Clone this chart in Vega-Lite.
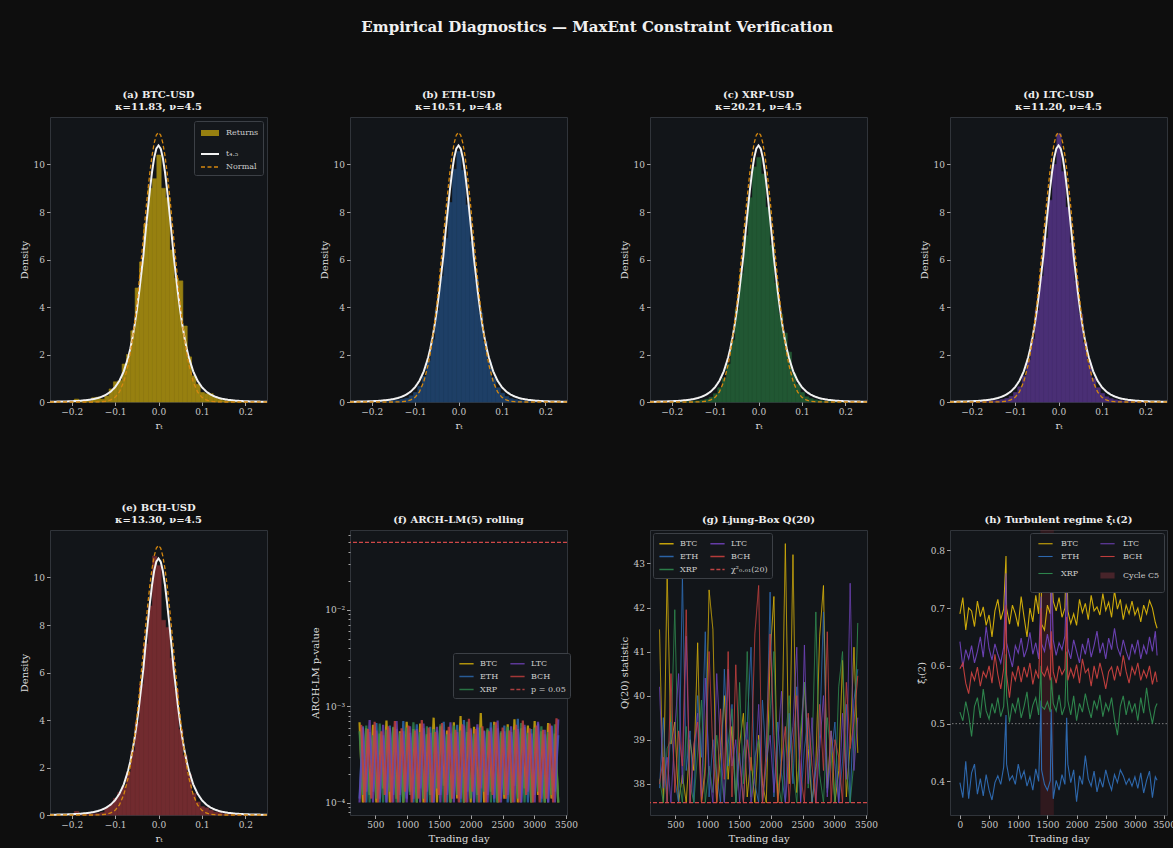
{
"$schema":"https://vega.github.io/schema/vega-lite/v6.json",
"background":"#0e0e0e",
"padding":{"left":18,"top":19,"right":0,"bottom":4},
"title":{"text":"Empirical Diagnostics — MaxEnt Constraint Verification","fontSize":15,"offset":55,"color":"#f0f0f0","font":"DejaVu Serif","fontWeight":"bold","anchor":"middle"},
"columns":4,
"spacing":{"row":128,"column":83},
"bounds":"flush",
"resolve":{"scale":{"color":"independent","strokeDash":"independent","strokeWidth":"independent"},"legend":{"color":"independent","strokeDash":"independent","strokeWidth":"independent"}},
"config":{
 "font":"DejaVu Serif",
 "view":{"fill":"#121519","stroke":"#30343a","strokeWidth":1},
 "title":{"font":"DejaVu Serif","fontSize":10,"fontWeight":"bold","color":"#eeeeee","offset":5,"lineHeight":12,"anchor":"middle"},
 "axis":{"domain":false,"grid":false,"tickColor":"#c8c8c8","tickSize":3.5,"tickWidth":0.8,"labelColor":"#c8c8c8","labelFont":"DejaVu Serif","labelFontSize":9,"labelPadding":2,"labelFlush":false,"labelOverlap":false,"titleColor":"#dcdcdc","titleFont":"DejaVu Serif","titleFontSize":10,"titleFontWeight":"normal","titlePadding":4},
 "legend":{"labelFont":"DejaVu Serif","labelFontSize":8,"labelColor":"#cccccc","fillColor":"#14171b","strokeColor":"#3c4046","padding":4,"cornerRadius":2,"rowPadding":2,"columnPadding":8,"symbolStrokeWidth":1.5,"labelOffset":5,"titlePadding":0}
},
"datasets":{
"curve":[
{"k":"t₄.₅","x":-0.25,"y":0.011},{"k":"t₄.₅","x":-0.22,"y":0.02},{"k":"t₄.₅","x":-0.2,"y":0.032},{"k":"t₄.₅","x":-0.18,"y":0.053},{"k":"t₄.₅","x":-0.16,"y":0.092},{"k":"t₄.₅","x":-0.15,"y":0.123},{"k":"t₄.₅","x":-0.14,"y":0.166},{"k":"t₄.₅","x":-0.13,"y":0.227},{"k":"t₄.₅","x":-0.12,"y":0.314},{"k":"t₄.₅","x":-0.11,"y":0.44},{"k":"t₄.₅","x":-0.1,"y":0.625},{"k":"t₄.₅","x":-0.09,"y":0.895},{"k":"t₄.₅","x":-0.08,"y":1.29},{"k":"t₄.₅","x":-0.07,"y":1.87},{"k":"t₄.₅","x":-0.065,"y":2.25},{"k":"t₄.₅","x":-0.06,"y":2.7},{"k":"t₄.₅","x":-0.055,"y":3.24},{"k":"t₄.₅","x":-0.05,"y":3.85},{"k":"t₄.₅","x":-0.045,"y":4.56},{"k":"t₄.₅","x":-0.04,"y":5.35},{"k":"t₄.₅","x":-0.035,"y":6.14},{"k":"t₄.₅","x":-0.03,"y":7.12},{"k":"t₄.₅","x":-0.025,"y":8.03},{"k":"t₄.₅","x":-0.02,"y":8.9},{"k":"t₄.₅","x":-0.015,"y":9.67},{"k":"t₄.₅","x":-0.01,"y":10.28},{"k":"t₄.₅","x":-0.005,"y":10.67},{"k":"t₄.₅","x":0,"y":10.8},{"k":"t₄.₅","x":0.005,"y":10.67},{"k":"t₄.₅","x":0.01,"y":10.28},{"k":"t₄.₅","x":0.015,"y":9.67},{"k":"t₄.₅","x":0.02,"y":8.9},{"k":"t₄.₅","x":0.025,"y":8.03},{"k":"t₄.₅","x":0.03,"y":7.12},{"k":"t₄.₅","x":0.035,"y":6.14},{"k":"t₄.₅","x":0.04,"y":5.35},{"k":"t₄.₅","x":0.045,"y":4.56},{"k":"t₄.₅","x":0.05,"y":3.85},{"k":"t₄.₅","x":0.055,"y":3.24},{"k":"t₄.₅","x":0.06,"y":2.7},{"k":"t₄.₅","x":0.065,"y":2.25},{"k":"t₄.₅","x":0.07,"y":1.87},{"k":"t₄.₅","x":0.08,"y":1.29},{"k":"t₄.₅","x":0.09,"y":0.895},{"k":"t₄.₅","x":0.1,"y":0.625},{"k":"t₄.₅","x":0.11,"y":0.44},{"k":"t₄.₅","x":0.12,"y":0.314},{"k":"t₄.₅","x":0.13,"y":0.227},{"k":"t₄.₅","x":0.14,"y":0.166},{"k":"t₄.₅","x":0.15,"y":0.123},{"k":"t₄.₅","x":0.16,"y":0.092},{"k":"t₄.₅","x":0.18,"y":0.053},{"k":"t₄.₅","x":0.2,"y":0.032},{"k":"t₄.₅","x":0.22,"y":0.02},{"k":"t₄.₅","x":0.25,"y":0.011},
{"k":"Normal","x":-0.25,"y":0},{"k":"Normal","x":-0.2,"y":0},{"k":"Normal","x":-0.16,"y":0},{"k":"Normal","x":-0.15,"y":0.001},{"k":"Normal","x":-0.14,"y":0.004},{"k":"Normal","x":-0.13,"y":0.012},{"k":"Normal","x":-0.12,"y":0.033},{"k":"Normal","x":-0.11,"y":0.085},{"k":"Normal","x":-0.1,"y":0.198},{"k":"Normal","x":-0.09,"y":0.428},{"k":"Normal","x":-0.08,"y":0.851},{"k":"Normal","x":-0.07,"y":1.56},{"k":"Normal","x":-0.065,"y":2.05},{"k":"Normal","x":-0.06,"y":2.64},{"k":"Normal","x":-0.055,"y":3.34},{"k":"Normal","x":-0.05,"y":4.13},{"k":"Normal","x":-0.045,"y":5.0},{"k":"Normal","x":-0.04,"y":5.94},{"k":"Normal","x":-0.035,"y":6.91},{"k":"Normal","x":-0.03,"y":7.89},{"k":"Normal","x":-0.025,"y":8.81},{"k":"Normal","x":-0.02,"y":9.65},{"k":"Normal","x":-0.015,"y":10.36},{"k":"Normal","x":-0.01,"y":10.9},{"k":"Normal","x":-0.005,"y":11.24},{"k":"Normal","x":0,"y":11.35},{"k":"Normal","x":0.005,"y":11.24},{"k":"Normal","x":0.01,"y":10.9},{"k":"Normal","x":0.015,"y":10.36},{"k":"Normal","x":0.02,"y":9.65},{"k":"Normal","x":0.025,"y":8.81},{"k":"Normal","x":0.03,"y":7.89},{"k":"Normal","x":0.035,"y":6.91},{"k":"Normal","x":0.04,"y":5.94},{"k":"Normal","x":0.045,"y":5.0},{"k":"Normal","x":0.05,"y":4.13},{"k":"Normal","x":0.055,"y":3.34},{"k":"Normal","x":0.06,"y":2.64},{"k":"Normal","x":0.065,"y":2.05},{"k":"Normal","x":0.07,"y":1.56},{"k":"Normal","x":0.08,"y":0.851},{"k":"Normal","x":0.09,"y":0.428},{"k":"Normal","x":0.1,"y":0.198},{"k":"Normal","x":0.11,"y":0.085},{"k":"Normal","x":0.12,"y":0.033},{"k":"Normal","x":0.13,"y":0.012},{"k":"Normal","x":0.14,"y":0.004},{"k":"Normal","x":0.15,"y":0.001},{"k":"Normal","x":0.16,"y":0},{"k":"Normal","x":0.2,"y":0},{"k":"Normal","x":0.25,"y":0}
],
"hist":[
{"c":"BTC","x":-0.205,"d":0.02},{"c":"BTC","x":-0.195,"d":0.12},{"c":"BTC","x":-0.185,"d":0.05},{"c":"BTC","x":-0.175,"d":0.03},{"c":"BTC","x":-0.165,"d":0.04},{"c":"BTC","x":-0.155,"d":0.18},{"c":"BTC","x":-0.145,"d":0.2},{"c":"BTC","x":-0.135,"d":0.12},{"c":"BTC","x":-0.125,"d":0.25},{"c":"BTC","x":-0.115,"d":0.55},{"c":"BTC","x":-0.105,"d":0.85},{"c":"BTC","x":-0.095,"d":0.9},{"c":"BTC","x":-0.085,"d":1.6},{"c":"BTC","x":-0.075,"d":2.0},{"c":"BTC","x":-0.065,"d":3.0},{"c":"BTC","x":-0.055,"d":4.8},{"c":"BTC","x":-0.045,"d":5.9},{"c":"BTC","x":-0.035,"d":7.5},{"c":"BTC","x":-0.025,"d":9.0},{"c":"BTC","x":-0.015,"d":9.4},{"c":"BTC","x":-0.005,"d":10.4},{"c":"BTC","x":0.005,"d":9.0},{"c":"BTC","x":0.015,"d":8.6},{"c":"BTC","x":0.025,"d":6.4},{"c":"BTC","x":0.035,"d":5.2},{"c":"BTC","x":0.045,"d":5.1},{"c":"BTC","x":0.055,"d":3.2},{"c":"BTC","x":0.065,"d":1.9},{"c":"BTC","x":0.075,"d":1.1},{"c":"BTC","x":0.085,"d":0.75},{"c":"BTC","x":0.095,"d":0.4},{"c":"BTC","x":0.105,"d":0.35},{"c":"BTC","x":0.115,"d":0.35},{"c":"BTC","x":0.125,"d":0.2},{"c":"BTC","x":0.135,"d":0.12},{"c":"BTC","x":0.145,"d":0.06},{"c":"BTC","x":0.155,"d":0.04},{"c":"BTC","x":0.165,"d":0.02},{"c":"BTC","x":0.175,"d":0.01},{"c":"BTC","x":0.185,"d":0},{"c":"BTC","x":0.195,"d":0.01},
{"c":"ETH","x":-0.205,"d":0.01},{"c":"ETH","x":-0.195,"d":0.02},{"c":"ETH","x":-0.185,"d":0.02},{"c":"ETH","x":-0.175,"d":0.03},{"c":"ETH","x":-0.165,"d":0.04},{"c":"ETH","x":-0.155,"d":0.06},{"c":"ETH","x":-0.145,"d":0.08},{"c":"ETH","x":-0.135,"d":0.12},{"c":"ETH","x":-0.125,"d":0.16},{"c":"ETH","x":-0.115,"d":0.26},{"c":"ETH","x":-0.105,"d":0.4},{"c":"ETH","x":-0.095,"d":0.66},{"c":"ETH","x":-0.085,"d":1.08},{"c":"ETH","x":-0.075,"d":1.72},{"c":"ETH","x":-0.065,"d":2.62},{"c":"ETH","x":-0.055,"d":3.86},{"c":"ETH","x":-0.045,"d":5.3},{"c":"ETH","x":-0.035,"d":6.9},{"c":"ETH","x":-0.025,"d":8.4},{"c":"ETH","x":-0.015,"d":9.8},{"c":"ETH","x":-0.005,"d":10.55},{"c":"ETH","x":0.005,"d":9.75},{"c":"ETH","x":0.015,"d":8.3},{"c":"ETH","x":0.025,"d":6.75},{"c":"ETH","x":0.035,"d":5.15},{"c":"ETH","x":0.045,"d":3.75},{"c":"ETH","x":0.055,"d":2.55},{"c":"ETH","x":0.065,"d":1.68},{"c":"ETH","x":0.075,"d":1.02},{"c":"ETH","x":0.085,"d":0.6},{"c":"ETH","x":0.095,"d":0.37},{"c":"ETH","x":0.105,"d":0.23},{"c":"ETH","x":0.115,"d":0.14},{"c":"ETH","x":0.125,"d":0.1},{"c":"ETH","x":0.135,"d":0.07},{"c":"ETH","x":0.145,"d":0.05},{"c":"ETH","x":0.155,"d":0.03},{"c":"ETH","x":0.165,"d":0.02},{"c":"ETH","x":0.175,"d":0.02},{"c":"ETH","x":0.185,"d":0.01},{"c":"ETH","x":0.195,"d":0.01},
{"c":"XRP","x":-0.205,"d":0.01},{"c":"XRP","x":-0.195,"d":0},{"c":"XRP","x":-0.185,"d":0.02},{"c":"XRP","x":-0.175,"d":0.01},{"c":"XRP","x":-0.165,"d":0.03},{"c":"XRP","x":-0.155,"d":0.04},{"c":"XRP","x":-0.145,"d":0.05},{"c":"XRP","x":-0.135,"d":0.08},{"c":"XRP","x":-0.125,"d":0.12},{"c":"XRP","x":-0.115,"d":0.2},{"c":"XRP","x":-0.105,"d":0.35},{"c":"XRP","x":-0.095,"d":0.6},{"c":"XRP","x":-0.085,"d":1.0},{"c":"XRP","x":-0.075,"d":1.6},{"c":"XRP","x":-0.065,"d":2.6},{"c":"XRP","x":-0.055,"d":3.9},{"c":"XRP","x":-0.045,"d":5.4},{"c":"XRP","x":-0.035,"d":7.0},{"c":"XRP","x":-0.025,"d":8.6},{"c":"XRP","x":-0.015,"d":9.9},{"c":"XRP","x":-0.005,"d":10.3},{"c":"XRP","x":0.005,"d":9.6},{"c":"XRP","x":0.015,"d":8.2},{"c":"XRP","x":0.025,"d":6.6},{"c":"XRP","x":0.035,"d":5.0},{"c":"XRP","x":0.045,"d":3.7},{"c":"XRP","x":0.055,"d":2.9},{"c":"XRP","x":0.065,"d":2.1},{"c":"XRP","x":0.075,"d":1.2},{"c":"XRP","x":0.085,"d":0.75},{"c":"XRP","x":0.095,"d":0.4},{"c":"XRP","x":0.105,"d":0.22},{"c":"XRP","x":0.115,"d":0.14},{"c":"XRP","x":0.125,"d":0.09},{"c":"XRP","x":0.135,"d":0.06},{"c":"XRP","x":0.145,"d":0.04},{"c":"XRP","x":0.155,"d":0.03},{"c":"XRP","x":0.165,"d":0.02},{"c":"XRP","x":0.175,"d":0.01},{"c":"XRP","x":0.185,"d":0.01},{"c":"XRP","x":0.195,"d":0},
{"c":"LTC","x":-0.205,"d":0.01},{"c":"LTC","x":-0.195,"d":0.01},{"c":"LTC","x":-0.185,"d":0.02},{"c":"LTC","x":-0.175,"d":0.02},{"c":"LTC","x":-0.165,"d":0.03},{"c":"LTC","x":-0.155,"d":0.05},{"c":"LTC","x":-0.145,"d":0.07},{"c":"LTC","x":-0.135,"d":0.1},{"c":"LTC","x":-0.125,"d":0.15},{"c":"LTC","x":-0.115,"d":0.24},{"c":"LTC","x":-0.105,"d":0.4},{"c":"LTC","x":-0.095,"d":0.64},{"c":"LTC","x":-0.085,"d":1.1},{"c":"LTC","x":-0.075,"d":1.75},{"c":"LTC","x":-0.065,"d":2.65},{"c":"LTC","x":-0.055,"d":3.85},{"c":"LTC","x":-0.045,"d":5.3},{"c":"LTC","x":-0.035,"d":6.9},{"c":"LTC","x":-0.025,"d":8.5},{"c":"LTC","x":-0.015,"d":10.0},{"c":"LTC","x":-0.005,"d":11.3},{"c":"LTC","x":0.005,"d":9.7},{"c":"LTC","x":0.015,"d":8.2},{"c":"LTC","x":0.025,"d":6.7},{"c":"LTC","x":0.035,"d":5.1},{"c":"LTC","x":0.045,"d":3.7},{"c":"LTC","x":0.055,"d":2.5},{"c":"LTC","x":0.065,"d":1.65},{"c":"LTC","x":0.075,"d":1.0},{"c":"LTC","x":0.085,"d":0.6},{"c":"LTC","x":0.095,"d":0.36},{"c":"LTC","x":0.105,"d":0.22},{"c":"LTC","x":0.115,"d":0.14},{"c":"LTC","x":0.125,"d":0.09},{"c":"LTC","x":0.135,"d":0.06},{"c":"LTC","x":0.145,"d":0.04},{"c":"LTC","x":0.155,"d":0.03},{"c":"LTC","x":0.165,"d":0.02},{"c":"LTC","x":0.175,"d":0.01},{"c":"LTC","x":0.185,"d":0.01},{"c":"LTC","x":0.195,"d":0.01},
{"c":"BCH","x":-0.205,"d":0.01},{"c":"BCH","x":-0.195,"d":0.15},{"c":"BCH","x":-0.185,"d":0.03},{"c":"BCH","x":-0.175,"d":0.03},{"c":"BCH","x":-0.165,"d":0.04},{"c":"BCH","x":-0.155,"d":0.05},{"c":"BCH","x":-0.145,"d":0.07},{"c":"BCH","x":-0.135,"d":0.1},{"c":"BCH","x":-0.125,"d":0.3},{"c":"BCH","x":-0.115,"d":0.45},{"c":"BCH","x":-0.105,"d":0.7},{"c":"BCH","x":-0.095,"d":0.95},{"c":"BCH","x":-0.085,"d":1.2},{"c":"BCH","x":-0.075,"d":1.8},{"c":"BCH","x":-0.065,"d":2.7},{"c":"BCH","x":-0.055,"d":3.9},{"c":"BCH","x":-0.045,"d":5.5},{"c":"BCH","x":-0.035,"d":7.2},{"c":"BCH","x":-0.025,"d":8.8},{"c":"BCH","x":-0.015,"d":10.9},{"c":"BCH","x":-0.005,"d":10.5},{"c":"BCH","x":0.005,"d":8.2},{"c":"BCH","x":0.015,"d":7.9},{"c":"BCH","x":0.025,"d":6.6},{"c":"BCH","x":0.035,"d":5.3},{"c":"BCH","x":0.045,"d":3.6},{"c":"BCH","x":0.055,"d":2.5},{"c":"BCH","x":0.065,"d":1.7},{"c":"BCH","x":0.075,"d":0.9},{"c":"BCH","x":0.085,"d":0.55},{"c":"BCH","x":0.095,"d":0.35},{"c":"BCH","x":0.105,"d":0.3},{"c":"BCH","x":0.115,"d":0.2},{"c":"BCH","x":0.125,"d":0.12},{"c":"BCH","x":0.135,"d":0.1},{"c":"BCH","x":0.145,"d":0.05},{"c":"BCH","x":0.155,"d":0.03},{"c":"BCH","x":0.165,"d":0.02},{"c":"BCH","x":0.175,"d":0.01},{"c":"BCH","x":0.185,"d":0.01},{"c":"BCH","x":0.195,"d":0}
],
"arch":[
{"s":"BTC","x":250,"p":6.8e-4},{"s":"BTC","x":303,"p":1.0e-4},{"s":"BTC","x":356,"p":5.9e-4},{"s":"BTC","x":409,"p":1.2e-4},{"s":"BTC","x":462,"p":6.4e-4},{"s":"BTC","x":515,"p":1.0e-4},{"s":"BTC","x":568,"p":5.2e-4},{"s":"BTC","x":621,"p":1.4e-4},{"s":"BTC","x":674,"p":7.1e-4},{"s":"BTC","x":727,"p":1.0e-4},{"s":"BTC","x":780,"p":6.0e-4},{"s":"BTC","x":833,"p":1.1e-4},{"s":"BTC","x":886,"p":5.5e-4},{"s":"BTC","x":939,"p":1.0e-4},{"s":"BTC","x":992,"p":6.9e-4},{"s":"BTC","x":1045,"p":1.3e-4},{"s":"BTC","x":1098,"p":5.8e-4},{"s":"BTC","x":1151,"p":1.0e-4},{"s":"BTC","x":1204,"p":6.6e-4},{"s":"BTC","x":1257,"p":1.0e-4},{"s":"BTC","x":1310,"p":5.1e-4},{"s":"BTC","x":1363,"p":1.2e-4},{"s":"BTC","x":1416,"p":7.6e-4},{"s":"BTC","x":1469,"p":1.0e-4},{"s":"BTC","x":1522,"p":6.2e-4},{"s":"BTC","x":1575,"p":1.5e-4},{"s":"BTC","x":1628,"p":5.6e-4},{"s":"BTC","x":1681,"p":1.0e-4},{"s":"BTC","x":1734,"p":6.8e-4},{"s":"BTC","x":1787,"p":1.1e-4},{"s":"BTC","x":1840,"p":7.9e-4},{"s":"BTC","x":1893,"p":1.0e-4},{"s":"BTC","x":1946,"p":5.4e-4},{"s":"BTC","x":1999,"p":1.0e-4},{"s":"BTC","x":2052,"p":6.1e-4},{"s":"BTC","x":2105,"p":1.2e-4},{"s":"BTC","x":2158,"p":8.5e-4},{"s":"BTC","x":2211,"p":1.0e-4},{"s":"BTC","x":2264,"p":5.7e-4},{"s":"BTC","x":2317,"p":1.3e-4},{"s":"BTC","x":2370,"p":6.9e-4},{"s":"BTC","x":2423,"p":1.0e-4},{"s":"BTC","x":2476,"p":5.3e-4},{"s":"BTC","x":2529,"p":1.1e-4},{"s":"BTC","x":2582,"p":6.5e-4},{"s":"BTC","x":2635,"p":1.0e-4},{"s":"BTC","x":2688,"p":7.3e-4},{"s":"BTC","x":2741,"p":1.0e-4},{"s":"BTC","x":2794,"p":5.9e-4},{"s":"BTC","x":2847,"p":1.4e-4},{"s":"BTC","x":2900,"p":6.3e-4},{"s":"BTC","x":2953,"p":1.0e-4},{"s":"BTC","x":3006,"p":7.0e-4},{"s":"BTC","x":3059,"p":1.2e-4},{"s":"BTC","x":3112,"p":5.5e-4},{"s":"BTC","x":3165,"p":1.0e-4},{"s":"BTC","x":3218,"p":6.7e-4},{"s":"BTC","x":3271,"p":1.1e-4},{"s":"BTC","x":3324,"p":5.2e-4},{"s":"BTC","x":3377,"p":1.0e-4},
{"s":"ETH","x":250,"p":1.1e-4},{"s":"ETH","x":303,"p":6.2e-4},{"s":"ETH","x":356,"p":1.0e-4},{"s":"ETH","x":409,"p":5.4e-4},{"s":"ETH","x":462,"p":1.3e-4},{"s":"ETH","x":515,"p":6.7e-4},{"s":"ETH","x":568,"p":1.0e-4},{"s":"ETH","x":621,"p":5.0e-4},{"s":"ETH","x":674,"p":1.0e-4},{"s":"ETH","x":727,"p":6.3e-4},{"s":"ETH","x":780,"p":1.2e-4},{"s":"ETH","x":833,"p":5.8e-4},{"s":"ETH","x":886,"p":1.0e-4},{"s":"ETH","x":939,"p":7.0e-4},{"s":"ETH","x":992,"p":1.1e-4},{"s":"ETH","x":1045,"p":5.3e-4},{"s":"ETH","x":1098,"p":1.0e-4},{"s":"ETH","x":1151,"p":6.5e-4},{"s":"ETH","x":1204,"p":1.4e-4},{"s":"ETH","x":1257,"p":5.9e-4},{"s":"ETH","x":1310,"p":1.0e-4},{"s":"ETH","x":1363,"p":6.1e-4},{"s":"ETH","x":1416,"p":1.0e-4},{"s":"ETH","x":1469,"p":5.6e-4},{"s":"ETH","x":1522,"p":1.2e-4},{"s":"ETH","x":1575,"p":6.9e-4},{"s":"ETH","x":1628,"p":1.0e-4},{"s":"ETH","x":1681,"p":5.2e-4},{"s":"ETH","x":1734,"p":1.1e-4},{"s":"ETH","x":1787,"p":6.4e-4},{"s":"ETH","x":1840,"p":1.0e-4},{"s":"ETH","x":1893,"p":7.2e-4},{"s":"ETH","x":1946,"p":1.3e-4},{"s":"ETH","x":1999,"p":5.7e-4},{"s":"ETH","x":2052,"p":1.0e-4},{"s":"ETH","x":2105,"p":6.0e-4},{"s":"ETH","x":2158,"p":1.0e-4},{"s":"ETH","x":2211,"p":5.5e-4},{"s":"ETH","x":2264,"p":1.2e-4},{"s":"ETH","x":2317,"p":6.8e-4},{"s":"ETH","x":2370,"p":1.0e-4},{"s":"ETH","x":2423,"p":5.9e-4},{"s":"ETH","x":2476,"p":1.1e-4},{"s":"ETH","x":2529,"p":6.3e-4},{"s":"ETH","x":2582,"p":1.0e-4},{"s":"ETH","x":2635,"p":5.4e-4},{"s":"ETH","x":2688,"p":1.5e-4},{"s":"ETH","x":2741,"p":7.4e-4},{"s":"ETH","x":2794,"p":1.0e-4},{"s":"ETH","x":2847,"p":6.1e-4},{"s":"ETH","x":2900,"p":1.0e-4},{"s":"ETH","x":2953,"p":5.8e-4},{"s":"ETH","x":3006,"p":1.2e-4},{"s":"ETH","x":3059,"p":6.6e-4},{"s":"ETH","x":3112,"p":1.0e-4},{"s":"ETH","x":3165,"p":5.1e-4},{"s":"ETH","x":3218,"p":1.0e-4},{"s":"ETH","x":3271,"p":6.2e-4},{"s":"ETH","x":3324,"p":1.3e-4},{"s":"ETH","x":3377,"p":5.0e-4},
{"s":"XRP","x":250,"p":5.5e-4},{"s":"XRP","x":303,"p":1.2e-4},{"s":"XRP","x":356,"p":6.3e-4},{"s":"XRP","x":409,"p":1.0e-4},{"s":"XRP","x":462,"p":5.0e-4},{"s":"XRP","x":515,"p":1.1e-4},{"s":"XRP","x":568,"p":6.6e-4},{"s":"XRP","x":621,"p":1.0e-4},{"s":"XRP","x":674,"p":5.7e-4},{"s":"XRP","x":727,"p":1.3e-4},{"s":"XRP","x":780,"p":6.1e-4},{"s":"XRP","x":833,"p":1.0e-4},{"s":"XRP","x":886,"p":5.3e-4},{"s":"XRP","x":939,"p":1.0e-4},{"s":"XRP","x":992,"p":6.0e-4},{"s":"XRP","x":1045,"p":1.2e-4},{"s":"XRP","x":1098,"p":6.8e-4},{"s":"XRP","x":1151,"p":1.0e-4},{"s":"XRP","x":1204,"p":5.4e-4},{"s":"XRP","x":1257,"p":1.1e-4},{"s":"XRP","x":1310,"p":6.2e-4},{"s":"XRP","x":1363,"p":1.0e-4},{"s":"XRP","x":1416,"p":5.8e-4},{"s":"XRP","x":1469,"p":1.4e-4},{"s":"XRP","x":1522,"p":6.5e-4},{"s":"XRP","x":1575,"p":1.0e-4},{"s":"XRP","x":1628,"p":5.1e-4},{"s":"XRP","x":1681,"p":1.0e-4},{"s":"XRP","x":1734,"p":6.3e-4},{"s":"XRP","x":1787,"p":1.2e-4},{"s":"XRP","x":1840,"p":5.6e-4},{"s":"XRP","x":1893,"p":1.0e-4},{"s":"XRP","x":1946,"p":6.9e-4},{"s":"XRP","x":1999,"p":1.1e-4},{"s":"XRP","x":2052,"p":5.2e-4},{"s":"XRP","x":2105,"p":1.0e-4},{"s":"XRP","x":2158,"p":6.0e-4},{"s":"XRP","x":2211,"p":1.3e-4},{"s":"XRP","x":2264,"p":5.9e-4},{"s":"XRP","x":2317,"p":1.0e-4},{"s":"XRP","x":2370,"p":6.4e-4},{"s":"XRP","x":2423,"p":1.0e-4},{"s":"XRP","x":2476,"p":5.5e-4},{"s":"XRP","x":2529,"p":1.2e-4},{"s":"XRP","x":2582,"p":6.1e-4},{"s":"XRP","x":2635,"p":1.0e-4},{"s":"XRP","x":2688,"p":5.7e-4},{"s":"XRP","x":2741,"p":1.1e-4},{"s":"XRP","x":2794,"p":6.7e-4},{"s":"XRP","x":2847,"p":1.0e-4},{"s":"XRP","x":2900,"p":5.3e-4},{"s":"XRP","x":2953,"p":1.0e-4},{"s":"XRP","x":3006,"p":6.0e-4},{"s":"XRP","x":3059,"p":1.3e-4},{"s":"XRP","x":3112,"p":6.2e-4},{"s":"XRP","x":3165,"p":1.0e-4},{"s":"XRP","x":3218,"p":5.4e-4},{"s":"XRP","x":3271,"p":1.2e-4},{"s":"XRP","x":3324,"p":6.5e-4},{"s":"XRP","x":3377,"p":1.0e-4},
{"s":"LTC","x":250,"p":1.0e-4},{"s":"LTC","x":303,"p":6.0e-4},{"s":"LTC","x":356,"p":1.3e-4},{"s":"LTC","x":409,"p":7.2e-4},{"s":"LTC","x":462,"p":1.0e-4},{"s":"LTC","x":515,"p":5.6e-4},{"s":"LTC","x":568,"p":1.1e-4},{"s":"LTC","x":621,"p":6.4e-4},{"s":"LTC","x":674,"p":1.0e-4},{"s":"LTC","x":727,"p":5.9e-4},{"s":"LTC","x":780,"p":1.0e-4},{"s":"LTC","x":833,"p":7.0e-4},{"s":"LTC","x":886,"p":1.2e-4},{"s":"LTC","x":939,"p":5.5e-4},{"s":"LTC","x":992,"p":1.0e-4},{"s":"LTC","x":1045,"p":6.2e-4},{"s":"LTC","x":1098,"p":1.1e-4},{"s":"LTC","x":1151,"p":5.8e-4},{"s":"LTC","x":1204,"p":1.0e-4},{"s":"LTC","x":1257,"p":6.6e-4},{"s":"LTC","x":1310,"p":1.3e-4},{"s":"LTC","x":1363,"p":5.3e-4},{"s":"LTC","x":1416,"p":1.0e-4},{"s":"LTC","x":1469,"p":6.1e-4},{"s":"LTC","x":1522,"p":1.0e-4},{"s":"LTC","x":1575,"p":5.7e-4},{"s":"LTC","x":1628,"p":1.2e-4},{"s":"LTC","x":1681,"p":6.8e-4},{"s":"LTC","x":1734,"p":1.0e-4},{"s":"LTC","x":1787,"p":5.4e-4},{"s":"LTC","x":1840,"p":1.1e-4},{"s":"LTC","x":1893,"p":6.3e-4},{"s":"LTC","x":1946,"p":1.0e-4},{"s":"LTC","x":1999,"p":5.9e-4},{"s":"LTC","x":2052,"p":1.0e-4},{"s":"LTC","x":2105,"p":6.5e-4},{"s":"LTC","x":2158,"p":1.4e-4},{"s":"LTC","x":2211,"p":5.6e-4},{"s":"LTC","x":2264,"p":1.0e-4},{"s":"LTC","x":2317,"p":6.0e-4},{"s":"LTC","x":2370,"p":1.1e-4},{"s":"LTC","x":2423,"p":7.1e-4},{"s":"LTC","x":2476,"p":1.0e-4},{"s":"LTC","x":2529,"p":5.5e-4},{"s":"LTC","x":2582,"p":1.2e-4},{"s":"LTC","x":2635,"p":6.2e-4},{"s":"LTC","x":2688,"p":1.0e-4},{"s":"LTC","x":2741,"p":5.8e-4},{"s":"LTC","x":2794,"p":1.0e-4},{"s":"LTC","x":2847,"p":6.4e-4},{"s":"LTC","x":2900,"p":1.3e-4},{"s":"LTC","x":2953,"p":5.2e-4},{"s":"LTC","x":3006,"p":1.0e-4},{"s":"LTC","x":3059,"p":6.9e-4},{"s":"LTC","x":3112,"p":1.1e-4},{"s":"LTC","x":3165,"p":5.7e-4},{"s":"LTC","x":3218,"p":1.0e-4},{"s":"LTC","x":3271,"p":6.3e-4},{"s":"LTC","x":3324,"p":1.0e-4},{"s":"LTC","x":3377,"p":7.3e-4},
{"s":"BCH","x":276,"p":6.4e-4},{"s":"BCH","x":329,"p":1.0e-4},{"s":"BCH","x":382,"p":5.8e-4},{"s":"BCH","x":435,"p":1.1e-4},{"s":"BCH","x":488,"p":6.9e-4},{"s":"BCH","x":541,"p":1.0e-4},{"s":"BCH","x":594,"p":5.5e-4},{"s":"BCH","x":647,"p":1.2e-4},{"s":"BCH","x":700,"p":6.2e-4},{"s":"BCH","x":753,"p":1.0e-4},{"s":"BCH","x":806,"p":7.0e-4},{"s":"BCH","x":859,"p":1.0e-4},{"s":"BCH","x":912,"p":5.9e-4},{"s":"BCH","x":965,"p":1.3e-4},{"s":"BCH","x":1018,"p":6.3e-4},{"s":"BCH","x":1071,"p":1.0e-4},{"s":"BCH","x":1124,"p":5.6e-4},{"s":"BCH","x":1177,"p":1.1e-4},{"s":"BCH","x":1230,"p":7.2e-4},{"s":"BCH","x":1283,"p":1.0e-4},{"s":"BCH","x":1336,"p":6.0e-4},{"s":"BCH","x":1389,"p":1.0e-4},{"s":"BCH","x":1442,"p":5.4e-4},{"s":"BCH","x":1495,"p":1.2e-4},{"s":"BCH","x":1548,"p":6.7e-4},{"s":"BCH","x":1601,"p":1.0e-4},{"s":"BCH","x":1654,"p":6.1e-4},{"s":"BCH","x":1707,"p":1.1e-4},{"s":"BCH","x":1760,"p":5.7e-4},{"s":"BCH","x":1813,"p":1.0e-4},{"s":"BCH","x":1866,"p":6.5e-4},{"s":"BCH","x":1919,"p":1.0e-4},{"s":"BCH","x":1972,"p":7.4e-4},{"s":"BCH","x":2025,"p":1.3e-4},{"s":"BCH","x":2078,"p":5.8e-4},{"s":"BCH","x":2131,"p":1.0e-4},{"s":"BCH","x":2184,"p":6.2e-4},{"s":"BCH","x":2237,"p":1.0e-4},{"s":"BCH","x":2290,"p":5.5e-4},{"s":"BCH","x":2343,"p":1.2e-4},{"s":"BCH","x":2396,"p":6.8e-4},{"s":"BCH","x":2449,"p":1.0e-4},{"s":"BCH","x":2502,"p":6.0e-4},{"s":"BCH","x":2555,"p":1.1e-4},{"s":"BCH","x":2608,"p":5.6e-4},{"s":"BCH","x":2661,"p":1.0e-4},{"s":"BCH","x":2714,"p":6.4e-4},{"s":"BCH","x":2767,"p":1.0e-4},{"s":"BCH","x":2820,"p":7.1e-4},{"s":"BCH","x":2873,"p":1.2e-4},{"s":"BCH","x":2926,"p":5.9e-4},{"s":"BCH","x":2979,"p":1.0e-4},{"s":"BCH","x":3032,"p":6.3e-4},{"s":"BCH","x":3085,"p":1.0e-4},{"s":"BCH","x":3138,"p":5.7e-4},{"s":"BCH","x":3191,"p":1.1e-4},{"s":"BCH","x":3244,"p":6.6e-4},{"s":"BCH","x":3297,"p":1.0e-4},{"s":"BCH","x":3350,"p":7.5e-4}
],
"lb":[
{"s":"BTC","x":250,"q":41.5},{"s":"BTC","x":310,"q":37.57},{"s":"BTC","x":370,"q":42.8},{"s":"BTC","x":430,"q":38.9},{"s":"BTC","x":490,"q":39.4},{"s":"BTC","x":550,"q":37.57},{"s":"BTC","x":610,"q":38.2},{"s":"BTC","x":670,"q":37.57},{"s":"BTC","x":730,"q":39.0},{"s":"BTC","x":790,"q":38.3},{"s":"BTC","x":850,"q":41.2},{"s":"BTC","x":910,"q":37.57},{"s":"BTC","x":970,"q":38.4},{"s":"BTC","x":1030,"q":42.4},{"s":"BTC","x":1090,"q":41.5},{"s":"BTC","x":1150,"q":37.57},{"s":"BTC","x":1210,"q":38.7},{"s":"BTC","x":1270,"q":40.0},{"s":"BTC","x":1330,"q":38.1},{"s":"BTC","x":1390,"q":39.3},{"s":"BTC","x":1450,"q":37.57},{"s":"BTC","x":1510,"q":38.9},{"s":"BTC","x":1570,"q":39.6},{"s":"BTC","x":1630,"q":37.7},{"s":"BTC","x":1690,"q":38.6},{"s":"BTC","x":1750,"q":37.57},{"s":"BTC","x":1810,"q":39.1},{"s":"BTC","x":1870,"q":38.0},{"s":"BTC","x":1930,"q":37.57},{"s":"BTC","x":1990,"q":40.9},{"s":"BTC","x":2050,"q":42.25},{"s":"BTC","x":2110,"q":37.57},{"s":"BTC","x":2170,"q":38.5},{"s":"BTC","x":2230,"q":43.45},{"s":"BTC","x":2290,"q":38.0},{"s":"BTC","x":2350,"q":43.2},{"s":"BTC","x":2410,"q":37.8},{"s":"BTC","x":2470,"q":38.9},{"s":"BTC","x":2530,"q":40.3},{"s":"BTC","x":2590,"q":38.8},{"s":"BTC","x":2650,"q":37.57},{"s":"BTC","x":2710,"q":38.4},{"s":"BTC","x":2770,"q":41.35},{"s":"BTC","x":2830,"q":42.5},{"s":"BTC","x":2890,"q":37.9},{"s":"BTC","x":2950,"q":39.2},{"s":"BTC","x":3010,"q":37.57},{"s":"BTC","x":3070,"q":38.3},{"s":"BTC","x":3130,"q":40.8},{"s":"BTC","x":3190,"q":37.7},{"s":"BTC","x":3250,"q":38.9},{"s":"BTC","x":3310,"q":41.1},{"s":"BTC","x":3370,"q":38.7},
{"s":"ETH","x":250,"q":37.9},{"s":"ETH","x":310,"q":39.5},{"s":"ETH","x":370,"q":37.57},{"s":"ETH","x":430,"q":39.4},{"s":"ETH","x":490,"q":38.1},{"s":"ETH","x":550,"q":37.57},{"s":"ETH","x":610,"q":42.7},{"s":"ETH","x":670,"q":38.3},{"s":"ETH","x":730,"q":39.2},{"s":"ETH","x":790,"q":37.57},{"s":"ETH","x":850,"q":40.0},{"s":"ETH","x":910,"q":38.6},{"s":"ETH","x":970,"q":41.45},{"s":"ETH","x":1030,"q":37.7},{"s":"ETH","x":1090,"q":39.0},{"s":"ETH","x":1150,"q":38.2},{"s":"ETH","x":1210,"q":37.57},{"s":"ETH","x":1270,"q":40.6},{"s":"ETH","x":1330,"q":38.4},{"s":"ETH","x":1390,"q":39.8},{"s":"ETH","x":1450,"q":37.57},{"s":"ETH","x":1510,"q":38.7},{"s":"ETH","x":1570,"q":37.57},{"s":"ETH","x":1630,"q":39.3},{"s":"ETH","x":1690,"q":41.1},{"s":"ETH","x":1750,"q":38.0},{"s":"ETH","x":1810,"q":37.57},{"s":"ETH","x":1870,"q":39.9},{"s":"ETH","x":1930,"q":38.5},{"s":"ETH","x":1990,"q":42.35},{"s":"ETH","x":2050,"q":37.7},{"s":"ETH","x":2110,"q":39.4},{"s":"ETH","x":2170,"q":38.2},{"s":"ETH","x":2230,"q":37.57},{"s":"ETH","x":2290,"q":39.6},{"s":"ETH","x":2350,"q":38.0},{"s":"ETH","x":2410,"q":40.2},{"s":"ETH","x":2470,"q":37.57},{"s":"ETH","x":2530,"q":38.8},{"s":"ETH","x":2590,"q":39.5},{"s":"ETH","x":2650,"q":37.57},{"s":"ETH","x":2710,"q":38.3},{"s":"ETH","x":2770,"q":39.1},{"s":"ETH","x":2830,"q":41.9},{"s":"ETH","x":2890,"q":37.8},{"s":"ETH","x":2950,"q":38.6},{"s":"ETH","x":3010,"q":39.4},{"s":"ETH","x":3070,"q":37.57},{"s":"ETH","x":3130,"q":38.5},{"s":"ETH","x":3190,"q":39.8},{"s":"ETH","x":3250,"q":37.57},{"s":"ETH","x":3310,"q":39.9},{"s":"ETH","x":3370,"q":40.6},
{"s":"XRP","x":250,"q":38.1},{"s":"XRP","x":310,"q":37.57},{"s":"XRP","x":370,"q":38.8},{"s":"XRP","x":430,"q":39.0},{"s":"XRP","x":490,"q":41.95},{"s":"XRP","x":550,"q":38.2},{"s":"XRP","x":610,"q":37.57},{"s":"XRP","x":670,"q":39.3},{"s":"XRP","x":730,"q":38.0},{"s":"XRP","x":790,"q":37.57},{"s":"XRP","x":850,"q":38.7},{"s":"XRP","x":910,"q":39.9},{"s":"XRP","x":970,"q":37.57},{"s":"XRP","x":1030,"q":38.4},{"s":"XRP","x":1090,"q":37.8},{"s":"XRP","x":1150,"q":39.1},{"s":"XRP","x":1210,"q":38.3},{"s":"XRP","x":1270,"q":37.57},{"s":"XRP","x":1330,"q":38.9},{"s":"XRP","x":1390,"q":39.7},{"s":"XRP","x":1450,"q":37.57},{"s":"XRP","x":1510,"q":40.3},{"s":"XRP","x":1570,"q":38.0},{"s":"XRP","x":1630,"q":41.0},{"s":"XRP","x":1690,"q":37.7},{"s":"XRP","x":1750,"q":38.6},{"s":"XRP","x":1810,"q":39.0},{"s":"XRP","x":1870,"q":37.57},{"s":"XRP","x":1930,"q":38.4},{"s":"XRP","x":1990,"q":39.6},{"s":"XRP","x":2050,"q":41.0},{"s":"XRP","x":2110,"q":38.1},{"s":"XRP","x":2170,"q":37.57},{"s":"XRP","x":2230,"q":38.9},{"s":"XRP","x":2290,"q":40.0},{"s":"XRP","x":2350,"q":38.3},{"s":"XRP","x":2410,"q":37.57},{"s":"XRP","x":2470,"q":39.2},{"s":"XRP","x":2530,"q":40.3},{"s":"XRP","x":2590,"q":37.9},{"s":"XRP","x":2650,"q":38.7},{"s":"XRP","x":2710,"q":41.9},{"s":"XRP","x":2770,"q":38.2},{"s":"XRP","x":2830,"q":37.57},{"s":"XRP","x":2890,"q":39.5},{"s":"XRP","x":2950,"q":38.6},{"s":"XRP","x":3010,"q":37.57},{"s":"XRP","x":3070,"q":40.2},{"s":"XRP","x":3130,"q":41.0},{"s":"XRP","x":3190,"q":38.3},{"s":"XRP","x":3250,"q":37.57},{"s":"XRP","x":3310,"q":38.5},{"s":"XRP","x":3370,"q":41.65},
{"s":"LTC","x":250,"q":40.2},{"s":"LTC","x":310,"q":37.9},{"s":"LTC","x":370,"q":38.6},{"s":"LTC","x":430,"q":37.57},{"s":"LTC","x":490,"q":39.2},{"s":"LTC","x":550,"q":40.5},{"s":"LTC","x":610,"q":38.0},{"s":"LTC","x":670,"q":41.35},{"s":"LTC","x":730,"q":37.57},{"s":"LTC","x":790,"q":38.8},{"s":"LTC","x":850,"q":39.6},{"s":"LTC","x":910,"q":37.7},{"s":"LTC","x":970,"q":40.4},{"s":"LTC","x":1030,"q":38.3},{"s":"LTC","x":1090,"q":37.57},{"s":"LTC","x":1150,"q":40.5},{"s":"LTC","x":1210,"q":38.9},{"s":"LTC","x":1270,"q":37.57},{"s":"LTC","x":1330,"q":40.6},{"s":"LTC","x":1390,"q":38.4},{"s":"LTC","x":1450,"q":39.0},{"s":"LTC","x":1510,"q":37.57},{"s":"LTC","x":1570,"q":38.7},{"s":"LTC","x":1630,"q":39.4},{"s":"LTC","x":1690,"q":37.57},{"s":"LTC","x":1750,"q":38.2},{"s":"LTC","x":1810,"q":39.8},{"s":"LTC","x":1870,"q":37.57},{"s":"LTC","x":1930,"q":38.5},{"s":"LTC","x":1990,"q":39.1},{"s":"LTC","x":2050,"q":37.8},{"s":"LTC","x":2110,"q":38.9},{"s":"LTC","x":2170,"q":40.1},{"s":"LTC","x":2230,"q":37.57},{"s":"LTC","x":2290,"q":38.6},{"s":"LTC","x":2350,"q":39.3},{"s":"LTC","x":2410,"q":41.1},{"s":"LTC","x":2470,"q":37.57},{"s":"LTC","x":2530,"q":41.15},{"s":"LTC","x":2590,"q":38.0},{"s":"LTC","x":2650,"q":39.5},{"s":"LTC","x":2710,"q":37.57},{"s":"LTC","x":2770,"q":38.8},{"s":"LTC","x":2830,"q":40.0},{"s":"LTC","x":2890,"q":37.7},{"s":"LTC","x":2950,"q":39.2},{"s":"LTC","x":3010,"q":38.4},{"s":"LTC","x":3070,"q":37.57},{"s":"LTC","x":3130,"q":39.6},{"s":"LTC","x":3190,"q":38.1},{"s":"LTC","x":3250,"q":42.55},{"s":"LTC","x":3310,"q":38.3},{"s":"LTC","x":3370,"q":39.5},
{"s":"BCH","x":250,"q":38.0},{"s":"BCH","x":310,"q":38.6},{"s":"BCH","x":370,"q":37.57},{"s":"BCH","x":430,"q":40.5},{"s":"BCH","x":490,"q":37.8},{"s":"BCH","x":550,"q":39.2},{"s":"BCH","x":610,"q":38.4},{"s":"BCH","x":670,"q":41.95},{"s":"BCH","x":730,"q":37.57},{"s":"BCH","x":790,"q":38.9},{"s":"BCH","x":850,"q":39.4},{"s":"BCH","x":910,"q":37.57},{"s":"BCH","x":970,"q":38.2},{"s":"BCH","x":1030,"q":41.0},{"s":"BCH","x":1090,"q":38.7},{"s":"BCH","x":1150,"q":37.57},{"s":"BCH","x":1210,"q":39.7},{"s":"BCH","x":1270,"q":38.1},{"s":"BCH","x":1330,"q":41.0},{"s":"BCH","x":1390,"q":37.7},{"s":"BCH","x":1450,"q":40.7},{"s":"BCH","x":1510,"q":38.5},{"s":"BCH","x":1570,"q":37.57},{"s":"BCH","x":1630,"q":39.0},{"s":"BCH","x":1690,"q":38.3},{"s":"BCH","x":1750,"q":41.4},{"s":"BCH","x":1810,"q":42.5},{"s":"BCH","x":1870,"q":37.57},{"s":"BCH","x":1930,"q":38.8},{"s":"BCH","x":1990,"q":41.4},{"s":"BCH","x":2050,"q":39.1},{"s":"BCH","x":2110,"q":37.57},{"s":"BCH","x":2170,"q":38.5},{"s":"BCH","x":2230,"q":39.3},{"s":"BCH","x":2290,"q":37.57},{"s":"BCH","x":2350,"q":38.9},{"s":"BCH","x":2410,"q":40.0},{"s":"BCH","x":2470,"q":38.2},{"s":"BCH","x":2530,"q":37.57},{"s":"BCH","x":2590,"q":39.6},{"s":"BCH","x":2650,"q":38.4},{"s":"BCH","x":2710,"q":37.57},{"s":"BCH","x":2770,"q":39.8},{"s":"BCH","x":2830,"q":38.3},{"s":"BCH","x":2890,"q":41.45},{"s":"BCH","x":2950,"q":37.57},{"s":"BCH","x":3010,"q":39.0},{"s":"BCH","x":3070,"q":38.6},{"s":"BCH","x":3130,"q":37.57},{"s":"BCH","x":3190,"q":40.3},{"s":"BCH","x":3250,"q":38.8},{"s":"BCH","x":3310,"q":39.4},{"s":"BCH","x":3370,"q":40.45}
],
"xi":[
{"s":"BTC","x":0,"v":0.69},{"s":"BTC","x":50,"v":0.718},{"s":"BTC","x":100,"v":0.662},{"s":"BTC","x":150,"v":0.7},{"s":"BTC","x":200,"v":0.695},{"s":"BTC","x":250,"v":0.668},{"s":"BTC","x":300,"v":0.712},{"s":"BTC","x":350,"v":0.685},{"s":"BTC","x":400,"v":0.702},{"s":"BTC","x":450,"v":0.67},{"s":"BTC","x":500,"v":0.688},{"s":"BTC","x":550,"v":0.65},{"s":"BTC","x":600,"v":0.695},{"s":"BTC","x":650,"v":0.715},{"s":"BTC","x":700,"v":0.68},{"s":"BTC","x":750,"v":0.698},{"s":"BTC","x":790,"v":0.79},{"s":"BTC","x":800,"v":0.7},{"s":"BTC","x":850,"v":0.672},{"s":"BTC","x":900,"v":0.705},{"s":"BTC","x":950,"v":0.69},{"s":"BTC","x":1000,"v":0.668},{"s":"BTC","x":1050,"v":0.72},{"s":"BTC","x":1100,"v":0.684},{"s":"BTC","x":1150,"v":0.65},{"s":"BTC","x":1200,"v":0.7},{"s":"BTC","x":1250,"v":0.676},{"s":"BTC","x":1300,"v":0.722},{"s":"BTC","x":1350,"v":0.69},{"s":"BTC","x":1390,"v":0.812},{"s":"BTC","x":1400,"v":0.672},{"s":"BTC","x":1450,"v":0.662},{"s":"BTC","x":1500,"v":0.705},{"s":"BTC","x":1550,"v":0.69},{"s":"BTC","x":1565,"v":0.77},{"s":"BTC","x":1600,"v":0.712},{"s":"BTC","x":1650,"v":0.695},{"s":"BTC","x":1700,"v":0.718},{"s":"BTC","x":1750,"v":0.684},{"s":"BTC","x":1800,"v":0.7},{"s":"BTC","x":1830,"v":0.81},{"s":"BTC","x":1850,"v":0.695},{"s":"BTC","x":1900,"v":0.673},{"s":"BTC","x":1950,"v":0.69},{"s":"BTC","x":2000,"v":0.67},{"s":"BTC","x":2050,"v":0.715},{"s":"BTC","x":2100,"v":0.692},{"s":"BTC","x":2150,"v":0.708},{"s":"BTC","x":2200,"v":0.68},{"s":"BTC","x":2250,"v":0.722},{"s":"BTC","x":2300,"v":0.695},{"s":"BTC","x":2350,"v":0.702},{"s":"BTC","x":2400,"v":0.688},{"s":"BTC","x":2450,"v":0.725},{"s":"BTC","x":2500,"v":0.696},{"s":"BTC","x":2550,"v":0.71},{"s":"BTC","x":2600,"v":0.684},{"s":"BTC","x":2650,"v":0.73},{"s":"BTC","x":2700,"v":0.698},{"s":"BTC","x":2750,"v":0.715},{"s":"BTC","x":2800,"v":0.68},{"s":"BTC","x":2850,"v":0.705},{"s":"BTC","x":2900,"v":0.69},{"s":"BTC","x":2950,"v":0.712},{"s":"BTC","x":3000,"v":0.688},{"s":"BTC","x":3050,"v":0.7},{"s":"BTC","x":3100,"v":0.676},{"s":"BTC","x":3150,"v":0.705},{"s":"BTC","x":3200,"v":0.69},{"s":"BTC","x":3250,"v":0.713},{"s":"BTC","x":3300,"v":0.7},{"s":"BTC","x":3350,"v":0.675},{"s":"BTC","x":3380,"v":0.665},
{"s":"ETH","x":0,"v":0.398},{"s":"ETH","x":50,"v":0.372},{"s":"ETH","x":100,"v":0.435},{"s":"ETH","x":150,"v":0.37},{"s":"ETH","x":200,"v":0.415},{"s":"ETH","x":250,"v":0.43},{"s":"ETH","x":300,"v":0.378},{"s":"ETH","x":350,"v":0.405},{"s":"ETH","x":400,"v":0.375},{"s":"ETH","x":450,"v":0.412},{"s":"ETH","x":500,"v":0.385},{"s":"ETH","x":550,"v":0.368},{"s":"ETH","x":600,"v":0.398},{"s":"ETH","x":650,"v":0.41},{"s":"ETH","x":700,"v":0.395},{"s":"ETH","x":750,"v":0.425},{"s":"ETH","x":790,"v":0.515},{"s":"ETH","x":800,"v":0.43},{"s":"ETH","x":850,"v":0.402},{"s":"ETH","x":900,"v":0.41},{"s":"ETH","x":950,"v":0.395},{"s":"ETH","x":1000,"v":0.43},{"s":"ETH","x":1050,"v":0.405},{"s":"ETH","x":1100,"v":0.418},{"s":"ETH","x":1150,"v":0.392},{"s":"ETH","x":1200,"v":0.408},{"s":"ETH","x":1250,"v":0.385},{"s":"ETH","x":1300,"v":0.422},{"s":"ETH","x":1350,"v":0.4},{"s":"ETH","x":1390,"v":0.54},{"s":"ETH","x":1400,"v":0.42},{"s":"ETH","x":1450,"v":0.395},{"s":"ETH","x":1500,"v":0.385},{"s":"ETH","x":1550,"v":0.402},{"s":"ETH","x":1565,"v":0.525},{"s":"ETH","x":1600,"v":0.37},{"s":"ETH","x":1650,"v":0.402},{"s":"ETH","x":1700,"v":0.385},{"s":"ETH","x":1750,"v":0.412},{"s":"ETH","x":1800,"v":0.395},{"s":"ETH","x":1830,"v":0.51},{"s":"ETH","x":1850,"v":0.43},{"s":"ETH","x":1900,"v":0.398},{"s":"ETH","x":1950,"v":0.42},{"s":"ETH","x":2000,"v":0.365},{"s":"ETH","x":2050,"v":0.41},{"s":"ETH","x":2100,"v":0.395},{"s":"ETH","x":2150,"v":0.445},{"s":"ETH","x":2200,"v":0.405},{"s":"ETH","x":2250,"v":0.392},{"s":"ETH","x":2300,"v":0.418},{"s":"ETH","x":2350,"v":0.382},{"s":"ETH","x":2400,"v":0.405},{"s":"ETH","x":2450,"v":0.39},{"s":"ETH","x":2500,"v":0.42},{"s":"ETH","x":2550,"v":0.4},{"s":"ETH","x":2600,"v":0.385},{"s":"ETH","x":2650,"v":0.412},{"s":"ETH","x":2700,"v":0.398},{"s":"ETH","x":2750,"v":0.42},{"s":"ETH","x":2800,"v":0.41},{"s":"ETH","x":2850,"v":0.395},{"s":"ETH","x":2900,"v":0.405},{"s":"ETH","x":2950,"v":0.392},{"s":"ETH","x":3000,"v":0.408},{"s":"ETH","x":3050,"v":0.388},{"s":"ETH","x":3100,"v":0.415},{"s":"ETH","x":3150,"v":0.38},{"s":"ETH","x":3200,"v":0.402},{"s":"ETH","x":3250,"v":0.418},{"s":"ETH","x":3300,"v":0.372},{"s":"ETH","x":3350,"v":0.408},{"s":"ETH","x":3380,"v":0.402},
{"s":"XRP","x":0,"v":0.52},{"s":"XRP","x":50,"v":0.505},{"s":"XRP","x":100,"v":0.538},{"s":"XRP","x":150,"v":0.515},{"s":"XRP","x":200,"v":0.478},{"s":"XRP","x":250,"v":0.53},{"s":"XRP","x":300,"v":0.545},{"s":"XRP","x":350,"v":0.51},{"s":"XRP","x":400,"v":0.56},{"s":"XRP","x":450,"v":0.522},{"s":"XRP","x":500,"v":0.508},{"s":"XRP","x":550,"v":0.535},{"s":"XRP","x":600,"v":0.518},{"s":"XRP","x":650,"v":0.545},{"s":"XRP","x":700,"v":0.512},{"s":"XRP","x":750,"v":0.53},{"s":"XRP","x":790,"v":0.62},{"s":"XRP","x":800,"v":0.548},{"s":"XRP","x":850,"v":0.502},{"s":"XRP","x":900,"v":0.535},{"s":"XRP","x":950,"v":0.52},{"s":"XRP","x":1000,"v":0.545},{"s":"XRP","x":1050,"v":0.51},{"s":"XRP","x":1100,"v":0.53},{"s":"XRP","x":1150,"v":0.555},{"s":"XRP","x":1200,"v":0.508},{"s":"XRP","x":1250,"v":0.532},{"s":"XRP","x":1300,"v":0.545},{"s":"XRP","x":1350,"v":0.515},{"s":"XRP","x":1390,"v":0.6},{"s":"XRP","x":1400,"v":0.53},{"s":"XRP","x":1450,"v":0.525},{"s":"XRP","x":1500,"v":0.538},{"s":"XRP","x":1550,"v":0.52},{"s":"XRP","x":1565,"v":0.58},{"s":"XRP","x":1600,"v":0.535},{"s":"XRP","x":1650,"v":0.522},{"s":"XRP","x":1700,"v":0.55},{"s":"XRP","x":1750,"v":0.515},{"s":"XRP","x":1800,"v":0.53},{"s":"XRP","x":1830,"v":0.625},{"s":"XRP","x":1850,"v":0.54},{"s":"XRP","x":1900,"v":0.515},{"s":"XRP","x":1950,"v":0.548},{"s":"XRP","x":2000,"v":0.505},{"s":"XRP","x":2050,"v":0.535},{"s":"XRP","x":2100,"v":0.52},{"s":"XRP","x":2150,"v":0.552},{"s":"XRP","x":2200,"v":0.528},{"s":"XRP","x":2250,"v":0.51},{"s":"XRP","x":2300,"v":0.54},{"s":"XRP","x":2350,"v":0.525},{"s":"XRP","x":2400,"v":0.55},{"s":"XRP","x":2450,"v":0.512},{"s":"XRP","x":2500,"v":0.535},{"s":"XRP","x":2550,"v":0.522},{"s":"XRP","x":2600,"v":0.545},{"s":"XRP","x":2650,"v":0.508},{"s":"XRP","x":2700,"v":0.48},{"s":"XRP","x":2750,"v":0.53},{"s":"XRP","x":2800,"v":0.548},{"s":"XRP","x":2850,"v":0.515},{"s":"XRP","x":2900,"v":0.54},{"s":"XRP","x":2950,"v":0.52},{"s":"XRP","x":3000,"v":0.535},{"s":"XRP","x":3050,"v":0.505},{"s":"XRP","x":3100,"v":0.545},{"s":"XRP","x":3150,"v":0.518},{"s":"XRP","x":3200,"v":0.562},{"s":"XRP","x":3250,"v":0.525},{"s":"XRP","x":3300,"v":0.5},{"s":"XRP","x":3350,"v":0.528},{"s":"XRP","x":3380,"v":0.535},
{"s":"LTC","x":0,"v":0.642},{"s":"LTC","x":50,"v":0.598},{"s":"LTC","x":100,"v":0.628},{"s":"LTC","x":150,"v":0.612},{"s":"LTC","x":200,"v":0.635},{"s":"LTC","x":250,"v":0.605},{"s":"LTC","x":300,"v":0.625},{"s":"LTC","x":350,"v":0.65},{"s":"LTC","x":400,"v":0.615},{"s":"LTC","x":450,"v":0.668},{"s":"LTC","x":500,"v":0.63},{"s":"LTC","x":550,"v":0.61},{"s":"LTC","x":600,"v":0.638},{"s":"LTC","x":650,"v":0.62},{"s":"LTC","x":700,"v":0.605},{"s":"LTC","x":750,"v":0.632},{"s":"LTC","x":790,"v":0.76},{"s":"LTC","x":800,"v":0.64},{"s":"LTC","x":850,"v":0.618},{"s":"LTC","x":900,"v":0.598},{"s":"LTC","x":950,"v":0.635},{"s":"LTC","x":1000,"v":0.622},{"s":"LTC","x":1050,"v":0.648},{"s":"LTC","x":1100,"v":0.615},{"s":"LTC","x":1150,"v":0.63},{"s":"LTC","x":1200,"v":0.658},{"s":"LTC","x":1250,"v":0.62},{"s":"LTC","x":1300,"v":0.64},{"s":"LTC","x":1350,"v":0.612},{"s":"LTC","x":1390,"v":0.72},{"s":"LTC","x":1400,"v":0.638},{"s":"LTC","x":1450,"v":0.625},{"s":"LTC","x":1500,"v":0.655},{"s":"LTC","x":1550,"v":0.628},{"s":"LTC","x":1565,"v":0.76},{"s":"LTC","x":1600,"v":0.645},{"s":"LTC","x":1650,"v":0.618},{"s":"LTC","x":1700,"v":0.64},{"s":"LTC","x":1750,"v":0.628},{"s":"LTC","x":1800,"v":0.652},{"s":"LTC","x":1830,"v":0.745},{"s":"LTC","x":1850,"v":0.63},{"s":"LTC","x":1900,"v":0.612},{"s":"LTC","x":1950,"v":0.645},{"s":"LTC","x":2000,"v":0.625},{"s":"LTC","x":2050,"v":0.605},{"s":"LTC","x":2100,"v":0.638},{"s":"LTC","x":2150,"v":0.62},{"s":"LTC","x":2200,"v":0.648},{"s":"LTC","x":2250,"v":0.615},{"s":"LTC","x":2300,"v":0.635},{"s":"LTC","x":2350,"v":0.66},{"s":"LTC","x":2400,"v":0.622},{"s":"LTC","x":2450,"v":0.64},{"s":"LTC","x":2500,"v":0.612},{"s":"LTC","x":2550,"v":0.648},{"s":"LTC","x":2600,"v":0.628},{"s":"LTC","x":2650,"v":0.665},{"s":"LTC","x":2700,"v":0.632},{"s":"LTC","x":2750,"v":0.618},{"s":"LTC","x":2800,"v":0.645},{"s":"LTC","x":2850,"v":0.625},{"s":"LTC","x":2900,"v":0.61},{"s":"LTC","x":2950,"v":0.638},{"s":"LTC","x":3000,"v":0.622},{"s":"LTC","x":3050,"v":0.645},{"s":"LTC","x":3100,"v":0.612},{"s":"LTC","x":3150,"v":0.635},{"s":"LTC","x":3200,"v":0.62},{"s":"LTC","x":3250,"v":0.65},{"s":"LTC","x":3300,"v":0.625},{"s":"LTC","x":3350,"v":0.66},{"s":"LTC","x":3380,"v":0.618},
{"s":"BCH","x":0,"v":0.595},{"s":"BCH","x":50,"v":0.605},{"s":"BCH","x":100,"v":0.57},{"s":"BCH","x":150,"v":0.552},{"s":"BCH","x":200,"v":0.588},{"s":"BCH","x":250,"v":0.575},{"s":"BCH","x":300,"v":0.598},{"s":"BCH","x":350,"v":0.565},{"s":"BCH","x":400,"v":0.59},{"s":"BCH","x":450,"v":0.58},{"s":"BCH","x":500,"v":0.6},{"s":"BCH","x":550,"v":0.57},{"s":"BCH","x":600,"v":0.62},{"s":"BCH","x":650,"v":0.585},{"s":"BCH","x":700,"v":0.56},{"s":"BCH","x":750,"v":0.595},{"s":"BCH","x":790,"v":0.705},{"s":"BCH","x":800,"v":0.585},{"s":"BCH","x":850,"v":0.545},{"s":"BCH","x":900,"v":0.59},{"s":"BCH","x":950,"v":0.575},{"s":"BCH","x":1000,"v":0.6},{"s":"BCH","x":1050,"v":0.572},{"s":"BCH","x":1100,"v":0.598},{"s":"BCH","x":1150,"v":0.58},{"s":"BCH","x":1200,"v":0.605},{"s":"BCH","x":1250,"v":0.568},{"s":"BCH","x":1300,"v":0.592},{"s":"BCH","x":1350,"v":0.578},{"s":"BCH","x":1390,"v":0.7},{"s":"BCH","x":1400,"v":0.59},{"s":"BCH","x":1450,"v":0.582},{"s":"BCH","x":1500,"v":0.598},{"s":"BCH","x":1550,"v":0.575},{"s":"BCH","x":1565,"v":0.66},{"s":"BCH","x":1600,"v":0.59},{"s":"BCH","x":1650,"v":0.57},{"s":"BCH","x":1700,"v":0.6},{"s":"BCH","x":1750,"v":0.585},{"s":"BCH","x":1800,"v":0.595},{"s":"BCH","x":1830,"v":0.685},{"s":"BCH","x":1850,"v":0.575},{"s":"BCH","x":1900,"v":0.595},{"s":"BCH","x":1950,"v":0.58},{"s":"BCH","x":2000,"v":0.602},{"s":"BCH","x":2050,"v":0.57},{"s":"BCH","x":2100,"v":0.612},{"s":"BCH","x":2150,"v":0.588},{"s":"BCH","x":2200,"v":0.595},{"s":"BCH","x":2250,"v":0.565},{"s":"BCH","x":2300,"v":0.6},{"s":"BCH","x":2350,"v":0.578},{"s":"BCH","x":2400,"v":0.605},{"s":"BCH","x":2450,"v":0.585},{"s":"BCH","x":2500,"v":0.56},{"s":"BCH","x":2550,"v":0.59},{"s":"BCH","x":2600,"v":0.598},{"s":"BCH","x":2650,"v":0.575},{"s":"BCH","x":2700,"v":0.6},{"s":"BCH","x":2750,"v":0.582},{"s":"BCH","x":2800,"v":0.618},{"s":"BCH","x":2850,"v":0.59},{"s":"BCH","x":2900,"v":0.57},{"s":"BCH","x":2950,"v":0.598},{"s":"BCH","x":3000,"v":0.585},{"s":"BCH","x":3050,"v":0.605},{"s":"BCH","x":3100,"v":0.575},{"s":"BCH","x":3150,"v":0.592},{"s":"BCH","x":3200,"v":0.58},{"s":"BCH","x":3250,"v":0.6},{"s":"BCH","x":3300,"v":0.568},{"s":"BCH","x":3350,"v":0.59},{"s":"BCH","x":3380,"v":0.572}
]
},
"concat":[
{"width":217,"height":285,"title":{"text":["(a) BTC-USD","κ=11.83, ν=4.5"]},
 "layer":[
  {"data":{"name":"hist"},"transform":[{"filter":"datum.c==='BTC'"}],"mark":{"type":"bar","binSpacing":0,"color":"#978010","stroke":"#978010","strokeWidth":0.6},
   "encoding":{
    "x":{"field":"x","type":"quantitative","bin":{"binned":true,"step":0.01},"title":"rₜ","scale":{"domain":[-0.25,0.25],"nice":false,"zero":false},"axis":{"values":[-0.2,-0.1,0,0.1,0.2],"format":".1f"}},
    "y":{"field":"d","type":"quantitative","title":"Density","scale":{"domain":[0,12],"nice":false},"axis":{"values":[0,2,4,6,8,10],"format":"d"}}}},
  {"data":{"name":"curve"},"mark":{"type":"line"},"encoding":{"x":{"field":"x","type":"quantitative","title":"rₜ"},"y":{"field":"y","type":"quantitative","title":"Density"},
    "color":{"field":"k","type":"nominal","scale":{"domain":["Returns","t₄.₅","Normal"],"range":["#978010","#f2f2f2","#d4870f"]},"legend":{"title":null,"orient":"top-right","offset":4,"symbolType":"M-1.8,0H1.8","symbolSize":100,"rowPadding":3,"symbolOffset":4,"labelOffset":8}},
    "strokeWidth":{"field":"k","type":"nominal","scale":{"type":"ordinal","domain":["Returns","t₄.₅","Normal"],"range":[6,2,1.3]},"legend":{"title":null,"orient":"top-right","offset":4,"symbolType":"M-1.8,0H1.8","symbolSize":100,"rowPadding":3,"symbolOffset":4,"labelOffset":8}},
    "strokeDash":{"field":"k","type":"nominal","scale":{"domain":["Returns","t₄.₅","Normal"],"range":[[1,0],[1,0],[4,2.5]]},"legend":{"title":null,"orient":"top-right","offset":4,"symbolType":"M-1.8,0H1.8","symbolSize":100,"rowPadding":3,"symbolOffset":4,"labelOffset":8}}}}
 ]},
{"width":217,"height":285,"title":{"text":["(b) ETH-USD","κ=10.51, ν=4.8"]},
 "layer":[
  {"data":{"name":"hist"},"transform":[{"filter":"datum.c==='ETH'"}],"mark":{"type":"bar","binSpacing":0,"color":"#1e3f66","stroke":"#1e3f66","strokeWidth":0.6},
   "encoding":{
    "x":{"field":"x","type":"quantitative","bin":{"binned":true,"step":0.01},"title":"rₜ","scale":{"domain":[-0.25,0.25],"nice":false,"zero":false},"axis":{"values":[-0.2,-0.1,0,0.1,0.2],"format":".1f"}},
    "y":{"field":"d","type":"quantitative","title":"Density","scale":{"domain":[0,12],"nice":false},"axis":{"values":[0,2,4,6,8,10],"format":"d"}}}},
  {"data":{"name":"curve"},"mark":{"type":"line"},"encoding":{"x":{"field":"x","type":"quantitative","title":"rₜ"},"y":{"field":"y","type":"quantitative","title":"Density"},
    "color":{"field":"k","type":"nominal","scale":{"domain":["t₄.₅","Normal"],"range":["#f2f2f2","#d4870f"]},"legend":null},
    "strokeWidth":{"field":"k","type":"nominal","scale":{"type":"ordinal","domain":["t₄.₅","Normal"],"range":[2,1.3]},"legend":null},
    "strokeDash":{"field":"k","type":"nominal","scale":{"domain":["t₄.₅","Normal"],"range":[[1,0],[4,2.5]]},"legend":null}}}
 ]},
{"width":217,"height":285,"title":{"text":["(c) XRP-USD","κ=20.21, ν=4.5"]},
 "layer":[
  {"data":{"name":"hist"},"transform":[{"filter":"datum.c==='XRP'"}],"mark":{"type":"bar","binSpacing":0,"color":"#215733","stroke":"#215733","strokeWidth":0.6},
   "encoding":{
    "x":{"field":"x","type":"quantitative","bin":{"binned":true,"step":0.01},"title":"rₜ","scale":{"domain":[-0.25,0.25],"nice":false,"zero":false},"axis":{"values":[-0.2,-0.1,0,0.1,0.2],"format":".1f"}},
    "y":{"field":"d","type":"quantitative","title":"Density","scale":{"domain":[0,12],"nice":false},"axis":{"values":[0,2,4,6,8,10],"format":"d"}}}},
  {"data":{"name":"curve"},"mark":{"type":"line"},"encoding":{"x":{"field":"x","type":"quantitative","title":"rₜ"},"y":{"field":"y","type":"quantitative","title":"Density"},
    "color":{"field":"k","type":"nominal","scale":{"domain":["t₄.₅","Normal"],"range":["#f2f2f2","#d4870f"]},"legend":null},
    "strokeWidth":{"field":"k","type":"nominal","scale":{"type":"ordinal","domain":["t₄.₅","Normal"],"range":[2,1.3]},"legend":null},
    "strokeDash":{"field":"k","type":"nominal","scale":{"domain":["t₄.₅","Normal"],"range":[[1,0],[4,2.5]]},"legend":null}}}
 ]},
{"width":217,"height":285,"title":{"text":["(d) LTC-USD","κ=11.20, ν=4.5"]},
 "layer":[
  {"data":{"name":"hist"},"transform":[{"filter":"datum.c==='LTC'"}],"mark":{"type":"bar","binSpacing":0,"color":"#4a2f75","stroke":"#4a2f75","strokeWidth":0.6},
   "encoding":{
    "x":{"field":"x","type":"quantitative","bin":{"binned":true,"step":0.01},"title":"rₜ","scale":{"domain":[-0.25,0.25],"nice":false,"zero":false},"axis":{"values":[-0.2,-0.1,0,0.1,0.2],"format":".1f"}},
    "y":{"field":"d","type":"quantitative","title":"Density","scale":{"domain":[0,12],"nice":false},"axis":{"values":[0,2,4,6,8,10],"format":"d"}}}},
  {"data":{"name":"curve"},"mark":{"type":"line"},"encoding":{"x":{"field":"x","type":"quantitative","title":"rₜ"},"y":{"field":"y","type":"quantitative","title":"Density"},
    "color":{"field":"k","type":"nominal","scale":{"domain":["t₄.₅","Normal"],"range":["#f2f2f2","#d4870f"]},"legend":null},
    "strokeWidth":{"field":"k","type":"nominal","scale":{"type":"ordinal","domain":["t₄.₅","Normal"],"range":[2,1.3]},"legend":null},
    "strokeDash":{"field":"k","type":"nominal","scale":{"domain":["t₄.₅","Normal"],"range":[[1,0],[4,2.5]]},"legend":null}}}
 ]},
{"width":217,"height":285,"title":{"text":["(e) BCH-USD","κ=13.30, ν=4.5"]},
 "layer":[
  {"data":{"name":"hist"},"transform":[{"filter":"datum.c==='BCH'"}],"mark":{"type":"bar","binSpacing":0,"color":"#712b2f","stroke":"#712b2f","strokeWidth":0.6},
   "encoding":{
    "x":{"field":"x","type":"quantitative","bin":{"binned":true,"step":0.01},"title":"rₜ","scale":{"domain":[-0.25,0.25],"nice":false,"zero":false},"axis":{"values":[-0.2,-0.1,0,0.1,0.2],"format":".1f"}},
    "y":{"field":"d","type":"quantitative","title":"Density","scale":{"domain":[0,12],"nice":false},"axis":{"values":[0,2,4,6,8,10],"format":"d"}}}},
  {"data":{"name":"curve"},"mark":{"type":"line"},"encoding":{"x":{"field":"x","type":"quantitative","title":"rₜ"},"y":{"field":"y","type":"quantitative","title":"Density"},
    "color":{"field":"k","type":"nominal","scale":{"domain":["t₄.₅","Normal"],"range":["#f2f2f2","#d4870f"]},"legend":null},
    "strokeWidth":{"field":"k","type":"nominal","scale":{"type":"ordinal","domain":["t₄.₅","Normal"],"range":[2,1.3]},"legend":null},
    "strokeDash":{"field":"k","type":"nominal","scale":{"domain":["t₄.₅","Normal"],"range":[[1,0],[4,2.5]]},"legend":null}}}
 ]},
{"width":217,"height":285,"title":"(f) ARCH-LM(5) rolling",
 "layer":[
  {"data":{"name":"arch"},"mark":{"type":"line","strokeWidth":2.2,"opacity":0.8},
   "encoding":{
    "x":{"field":"x","type":"quantitative","title":"Trading day","scale":{"domain":[100,3515],"nice":false,"zero":false},"axis":{"values":[500,1000,1500,2000,2500,3000,3500],"format":"d"}},
    "y":{"field":"p","type":"quantitative","title":"ARCH-LM p-value","scale":{"type":"log","domain":[0.0000743,0.0673],"nice":false},"axis":{"values":[0.00008,0.00009,0.0001,0.0002,0.0003,0.0004,0.0005,0.0006,0.0007,0.0008,0.0009,0.001,0.002,0.003,0.004,0.005,0.006,0.007,0.008,0.009,0.01,0.02,0.03,0.04,0.05,0.06],"labelExpr":"datum.value===0.01?'10⁻²':(datum.value===0.001?'10⁻³':(datum.value===0.0001?'10⁻⁴':''))","tickSize":{"condition":{"test":"datum.value===0.01||datum.value===0.001||datum.value===0.0001","value":3.5},"value":2}}},
    "color":{"field":"s","type":"nominal","scale":{"domain":["BTC","ETH","XRP","LTC","BCH","p = 0.05"],"range":["#d9b30a","#2f6db5","#2f8a4f","#6f42b8","#c8413f","#d04848"]},
     "legend":{"title":null,"orient":"none","legendX":103,"legendY":123,"columns":2,"symbolType":"M-1.3,0H1.3","symbolSize":120,"symbolOffset":3,"labelOffset":7,"symbolStrokeWidth":1.5}},
    "strokeDash":{"field":"s","type":"nominal","scale":{"domain":["BTC","ETH","XRP","LTC","BCH","p = 0.05"],"range":[[1,0],[1,0],[1,0],[1,0],[1,0],[4,2]]},
     "legend":{"title":null,"orient":"none","legendX":103,"legendY":123,"columns":2,"symbolType":"M-1.3,0H1.3","symbolSize":120,"symbolOffset":3,"labelOffset":7,"symbolStrokeWidth":1.5}}}},
  {"data":{"values":[{"p":0.05}]},"mark":{"type":"rule","strokeWidth":1.3},"encoding":{"y":{"field":"p","type":"quantitative","title":"ARCH-LM p-value"},"color":{"datum":"p = 0.05","type":"nominal"},"strokeDash":{"datum":"p = 0.05","type":"nominal"}}}
 ]},
{"width":217,"height":285,"title":"(g) Ljung-Box Q(20)",
 "layer":[
  {"data":{"name":"lb"},"mark":{"type":"line","strokeWidth":1,"opacity":0.9},
   "encoding":{
    "x":{"field":"x","type":"quantitative","title":"Trading day","scale":{"domain":[100,3515],"nice":false,"zero":false},"axis":{"values":[500,1000,1500,2000,2500,3000,3500],"format":"d"}},
    "y":{"field":"q","type":"quantitative","title":"Q(20) statistic","scale":{"domain":[37.29,43.76],"nice":false,"zero":false},"axis":{"values":[38,39,40,41,42,43],"format":"d"}},
    "color":{"field":"s","type":"nominal","scale":{"domain":["BTC","ETH","XRP","LTC","BCH","χ²₀.₀₁(20)"],"range":["#d9b30a","#2f6db5","#2f8a4f","#6f42b8","#c8413f","#d04848"]},
     "legend":{"title":null,"orient":"top-left","offset":3,"columns":2,"symbolType":"M-1.3,0H1.3","symbolSize":120,"symbolOffset":3,"labelOffset":7}},
    "strokeDash":{"field":"s","type":"nominal","scale":{"domain":["BTC","ETH","XRP","LTC","BCH","χ²₀.₀₁(20)"],"range":[[1,0],[1,0],[1,0],[1,0],[1,0],[4,2]]},
     "legend":{"title":null,"orient":"top-left","offset":3,"columns":2,"symbolType":"M-1.3,0H1.3","symbolSize":120,"symbolOffset":3,"labelOffset":7}}}},
  {"data":{"values":[{"q":37.57}]},"mark":{"type":"rule","strokeWidth":1.3},"encoding":{"y":{"field":"q","type":"quantitative","title":"Q(20) statistic"},"color":{"datum":"χ²₀.₀₁(20)","type":"nominal"},"strokeDash":{"datum":"χ²₀.₀₁(20)","type":"nominal"}}}
 ]},
{"width":217,"height":285,"title":"(h) Turbulent regime ξ̂ₜ(2)",
 "layer":[
  {"data":{"values":[{"a":1380,"b":1610}]},"mark":{"type":"rect","color":"#8b2630","opacity":0.25},
   "encoding":{
    "x":{"field":"a","type":"quantitative","title":"Trading day","scale":{"domain":[-170,3550],"nice":false,"zero":false},"axis":{"values":[0,500,1000,1500,2000,2500,3000,3500],"format":"d"}},
    "x2":{"field":"b"}}},
  {"data":{"values":[{"v":0.5}]},"mark":{"type":"rule","color":"#9a9a9a","strokeDash":[1.5,2],"strokeWidth":0.8},"encoding":{"y":{"field":"v","type":"quantitative","title":"ξ̂ₜ(2)","scale":{"domain":[0.342,0.835],"nice":false,"zero":false}}}},
  {"data":{"name":"xi"},"mark":{"type":"line","opacity":0.95},
   "encoding":{
    "x":{"field":"x","type":"quantitative","title":"Trading day","scale":{"domain":[-170,3550],"nice":false,"zero":false},"axis":{"values":[0,500,1000,1500,2000,2500,3000,3500],"format":"d"}},
    "y":{"field":"v","type":"quantitative","title":"ξ̂ₜ(2)","scale":{"domain":[0.342,0.835],"nice":false,"zero":false},"axis":{"values":[0.4,0.5,0.6,0.7,0.8],"format":".1f"}},
    "color":{"field":"s","type":"nominal","scale":{"domain":["BTC","ETH","XRP","LTC","BCH","Cycle C5"],"range":["#d9b30a","#2f6db5","#2f8a4f","#6f42b8","#c8413f","#4a252b"]},
     "legend":{"title":null,"orient":"top-right","offset":3,"columns":2,"symbolType":"M-1.3,0H1.3","symbolSize":120,"symbolOffset":3,"labelOffset":7}},
    "strokeWidth":{"field":"s","type":"nominal","scale":{"type":"ordinal","domain":["BTC","ETH","XRP","LTC","BCH","Cycle C5"],"range":[1.1,1.1,1.1,1.1,1.1,6]},
     "legend":{"title":null,"orient":"top-right","offset":3,"columns":2,"symbolType":"M-1.3,0H1.3","symbolSize":120,"symbolOffset":3,"labelOffset":7}}}}
 ]}
]
}
